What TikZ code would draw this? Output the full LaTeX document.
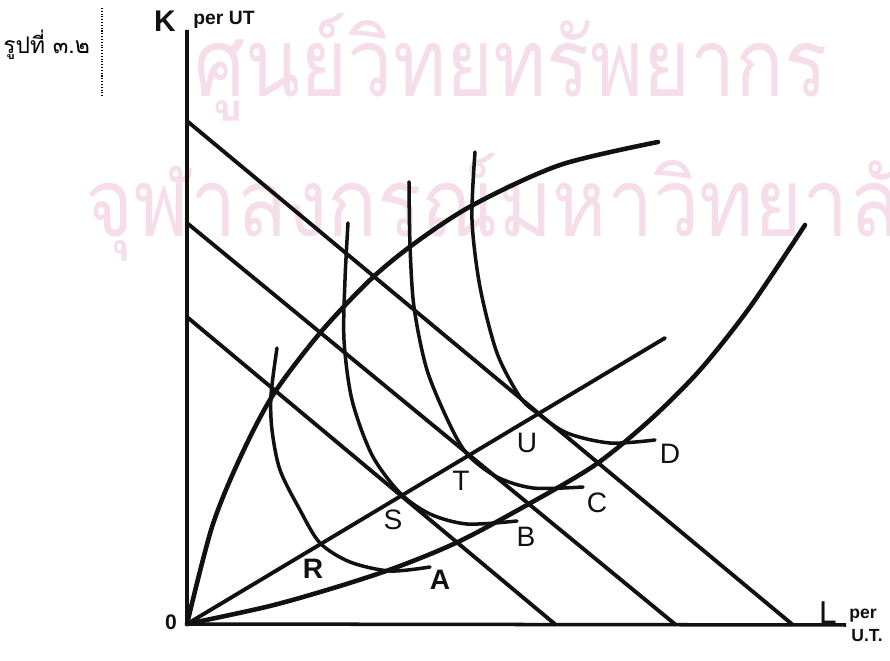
\documentclass[tikz,border=0pt]{standalone}
\usepackage{fontspec}
\setmainfont{Liberation Sans}
\newfontfamily\thaifont[Script=Thai]{Loma}
\usetikzlibrary{positioning}
\definecolor{inkBlack}{HTML}{111111}
\definecolor{wmPink}{RGB}{245,222,234}

\begin{document}
\begin{tikzpicture}[x=0.02cm, y=-0.02cm, font=\fontsize{16}{18}\selectfont,
  axisline/.style={draw=inkBlack, line width=2pt},
  budget/.style={draw=inkBlack, line width=2.2pt},
  isoq/.style={draw=inkBlack, line width=2pt, line cap=round},
  growth/.style={draw=inkBlack, line width=2.6pt, line cap=round},
  ptlabel/.style={inner sep=0pt, text=inkBlack},
  wm/.style={font=\thaifont\fontsize{54}{60}\selectfont, text=wmPink, inner sep=0pt, anchor=base west},
]
  \useasboundingbox (0,0) rectangle (890,661);

  % watermark
  \node[wm] (wm1) at (194,97) {\scalebox{0.85}[1]{ศูนย์วิทยทรัพยากร}};
  \node[wm] (wm2) at (85,237) {\scalebox{0.87}[1]{จุฬาลงกรณ์มหาวิทยาลัย}};

  % caption
  \node[anchor=west, inner sep=0pt, font=\thaifont\fontsize{13}{15}\selectfont] (cap) at (3,45) {รูปที่ ๓.๒};
  \draw[densely dotted, line width=0.6pt] (102,8) -- (102,97);

  % axes
  \coordinate (O) at (187,624);
  \coordinate (Ktop) at (187,30);
  \coordinate (Lend) at (846,625);
  \draw[axisline] (Ktop) -- (O) -- (Lend);

  % isocost lines
  \coordinate (k1) at (187,317); \coordinate (l1) at (556,625);
  \coordinate (k2) at (187,223); \coordinate (l2) at (676,625);
  \coordinate (k3) at (187,121); \coordinate (l3) at (793,625);
  \draw[budget] (k1) -- (l1);
  \draw[budget] (k2) -- (l2);
  \draw[budget] (k3) -- (l3);

  % expansion path and the two curves from 0
  \coordinate (rayEnd) at (665,338);
  \draw[budget, line cap=round] (O) -- (rayEnd);
  \draw[growth] plot[smooth] coordinates {(O) (212,527) (240,458) (273,395) (320,333) (370,280) (415,243) (473,205) (560,165) (658,142)};
  \draw[growth] plot[smooth] coordinates {(O) (270,606) (340,586) (400,566) (460,541) (527,505) (595,465) (650,420) (700,370) (750,307) (805,225)};

  % isoquants
  \draw[isoq] plot[smooth] coordinates {(277,348) (271,395) (272,430) (280,470) (300,510) (320,543) (350,562) (390,571) (430,567)};
  \draw[isoq] plot[smooth] coordinates {(348,223) (345,280) (344,340) (352,400) (372,455) (400,493) (430,514) (467,524) (517,521)};
  \draw[isoq] plot[smooth] coordinates {(409,182) (410,245) (414,307) (427,370) (450,425) (468,455) (497,477) (533,488) (583,487)};
  \draw[isoq] plot[smooth] coordinates {(475,152) (472,220) (480,287) (497,353) (520,397) (537,413) (567,433) (610,443) (655,440)};

  % labels
  \node[ptlabel, font=\fontsize{16}{18}\bfseries] (lR) at (313,569) {R};
  \node[ptlabel] (lS) at (393,520) {S};
  \node[ptlabel] (lT) at (461,481) {T};
  \node[ptlabel] (lU) at (527,443) {U};
  \node[ptlabel, font=\fontsize{16}{18}\bfseries] (lA) at (440,580) {A};
  \node[ptlabel] (lB) at (526,537) {B};
  \node[ptlabel] (lC) at (597,503) {C};
  \node[ptlabel] (lD) at (670,454) {D};

  \node[ptlabel, font=\fontsize{17}{19}\bfseries] (lK) at (165,21) {K};
  \node[ptlabel, font=\fontsize{11}{13}\bfseries] (lKu) at (224,20) {per UT};
  \node[ptlabel, font=\fontsize{18}{20}\selectfont] (lL) at (828,613) {L};
  \node[ptlabel, font=\fontsize{10}{12}\bfseries] (lLu1) at (863,616) {per};
  \node[ptlabel, font=\fontsize{10}{12}\bfseries] (lLu2) at (867,636) {U.T.};
  \node[ptlabel, font=\fontsize{12}{14}\bfseries] (lO) at (171,622) {0};
\end{tikzpicture}
\end{document}
